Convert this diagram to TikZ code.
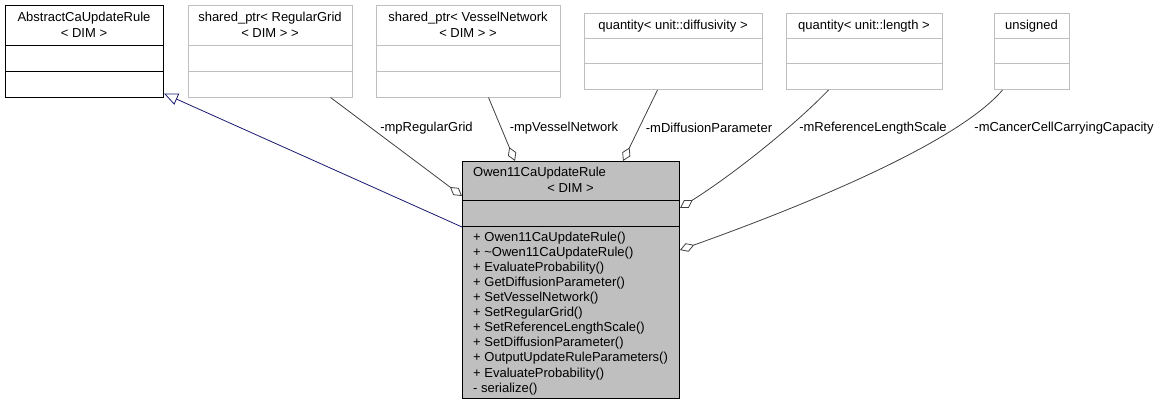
\documentclass[tikz,border=0pt]{standalone}
\usepackage{fontspec}
\setmainfont{Liberation Sans}
\usetikzlibrary{arrows.meta}
\definecolor{boxgray}{HTML}{BFBFBF}
\definecolor{edgegray}{HTML}{404040}
\definecolor{inheritblue}{HTML}{191970}
\begin{document}
\begin{tikzpicture}[x=1pt,y=-1pt,
  txt/.style={font=\fontsize{13}{16}\selectfont, inner sep=0pt, align=center},
  cls/.style={draw=black, line width=1pt, inner sep=0pt, anchor=north west},
  ext/.style={draw=boxgray, line width=1pt, inner sep=0pt, anchor=north west},
  assoc/.style={draw=edgegray, line width=0.8pt, -{Diamond[open,length=15pt,width=9pt]}},
  inherit/.style={draw=inheritblue, line width=0.8pt, -{Triangle[open,length=14pt,width=12pt]}},
]
\useasboundingbox (0,0) rectangle (1161,404);

% class boxes
\node[cls, minimum width=158pt, minimum height=91.5pt] (abs) at (5,5) {};
\node[ext, minimum width=164pt, minimum height=91.5pt] (grid) at (188,5) {};
\node[ext, minimum width=184pt, minimum height=91.5pt] (vessel) at (376,5) {};
\node[ext, minimum width=178pt, minimum height=76pt] (diff) at (584,13) {};
\node[ext, minimum width=156pt, minimum height=76pt] (len) at (786,13) {};
\node[ext, minimum width=75pt, minimum height=76pt] (uns) at (994,13) {};
\node[cls, fill=boxgray, minimum width=217pt, minimum height=237pt] (owen) at (462,161) {};

% compartment dividers
\foreach \n/\c in {abs/black, grid/boxgray, vessel/boxgray}{
  \draw[\c, line width=1pt] ([yshift=-41pt]\n.north west) -- ([yshift=-41pt]\n.north east);
  \draw[\c, line width=1pt] ([yshift=-66pt]\n.north west) -- ([yshift=-66pt]\n.north east);
}
\foreach \n in {diff, len, uns}{
  \draw[boxgray, line width=1pt] ([yshift=-26pt]\n.north west) -- ([yshift=-26pt]\n.north east);
  \draw[boxgray, line width=1pt] ([yshift=-51pt]\n.north west) -- ([yshift=-51pt]\n.north east);
}
\draw[line width=1pt] ([yshift=-39pt]owen.north west) -- ([yshift=-39pt]owen.north east);
\draw[line width=1pt] ([yshift=-65pt]owen.north west) -- ([yshift=-65pt]owen.north east);

% class names
\node[txt] (abs-t) at (84,25) {AbstractCaUpdateRule\\< DIM >};
\node[txt] (grid-t) at (270,25) {shared\_ptr< RegularGrid\\< DIM > >};
\node[txt] (vessel-t) at (468,25) {shared\_ptr< VesselNetwork\\< DIM > >};
\node[txt] (diff-t) at (673,26) {quantity< unit::diffusivity >};
\node[txt] (len-t) at (864,26) {quantity< unit::length >};
\node[txt] (uns-t) at (1031.5,26) {unsigned};
\node[txt, anchor=west] (owen-t1) at (473,173) {Owen11CaUpdateRule};
\node[txt] (owen-t2) at (570.5,188) {< DIM >};

% operations
\node[txt, align=left, anchor=north west, font=\fontsize{13}{15.1}\selectfont] (owen-ops) at (473,231.5) {%
+ Owen11CaUpdateRule()\\
+ \textasciitilde Owen11CaUpdateRule()\\
+ EvaluateProbability()\\
+ GetDiffusionParameter()\\
+ SetVesselNetwork()\\
+ SetRegularGrid()\\
+ SetReferenceLengthScale()\\
+ SetDiffusionParameter()\\
+ OutputUpdateRuleParameters()\\
+ EvaluateProbability()\\
- serialize()};

% generalization
\draw[inherit] ([yshift=-66pt]owen.north west) -- ([yshift=4pt]abs.south east);

% associations
\draw[assoc] ([xshift=60pt]grid.south) -- ([yshift=-35pt]owen.north west);
\draw[assoc] ([xshift=20pt]vessel.south) -- ([xshift=53pt]owen.north west);
\draw[assoc] ([xshift=-16pt]diff.south) -- ([xshift=161pt]owen.north west);
\draw[assoc] ([xshift=-36pt]len.south) .. controls (800,120) and (740,170) .. ([yshift=-47pt]owen.north east);
\draw[assoc] ([xshift=-29.5pt]uns.south) .. controls (960,140) and (820,200) .. ([yshift=-89pt]owen.north east);

% role names
\node[txt] (l-grid) at (426.5,128) {-mpRegularGrid};
\node[txt] (l-vessel) at (564,128) {-mpVesselNetwork};
\node[txt] (l-diff) at (709,128) {-mDiffusionParameter};
\node[txt] (l-len) at (873,128) {-mReferenceLengthScale};
\node[txt] (l-uns) at (1064,128) {-mCancerCellCarryingCapacity};
\end{tikzpicture}
\end{document}
